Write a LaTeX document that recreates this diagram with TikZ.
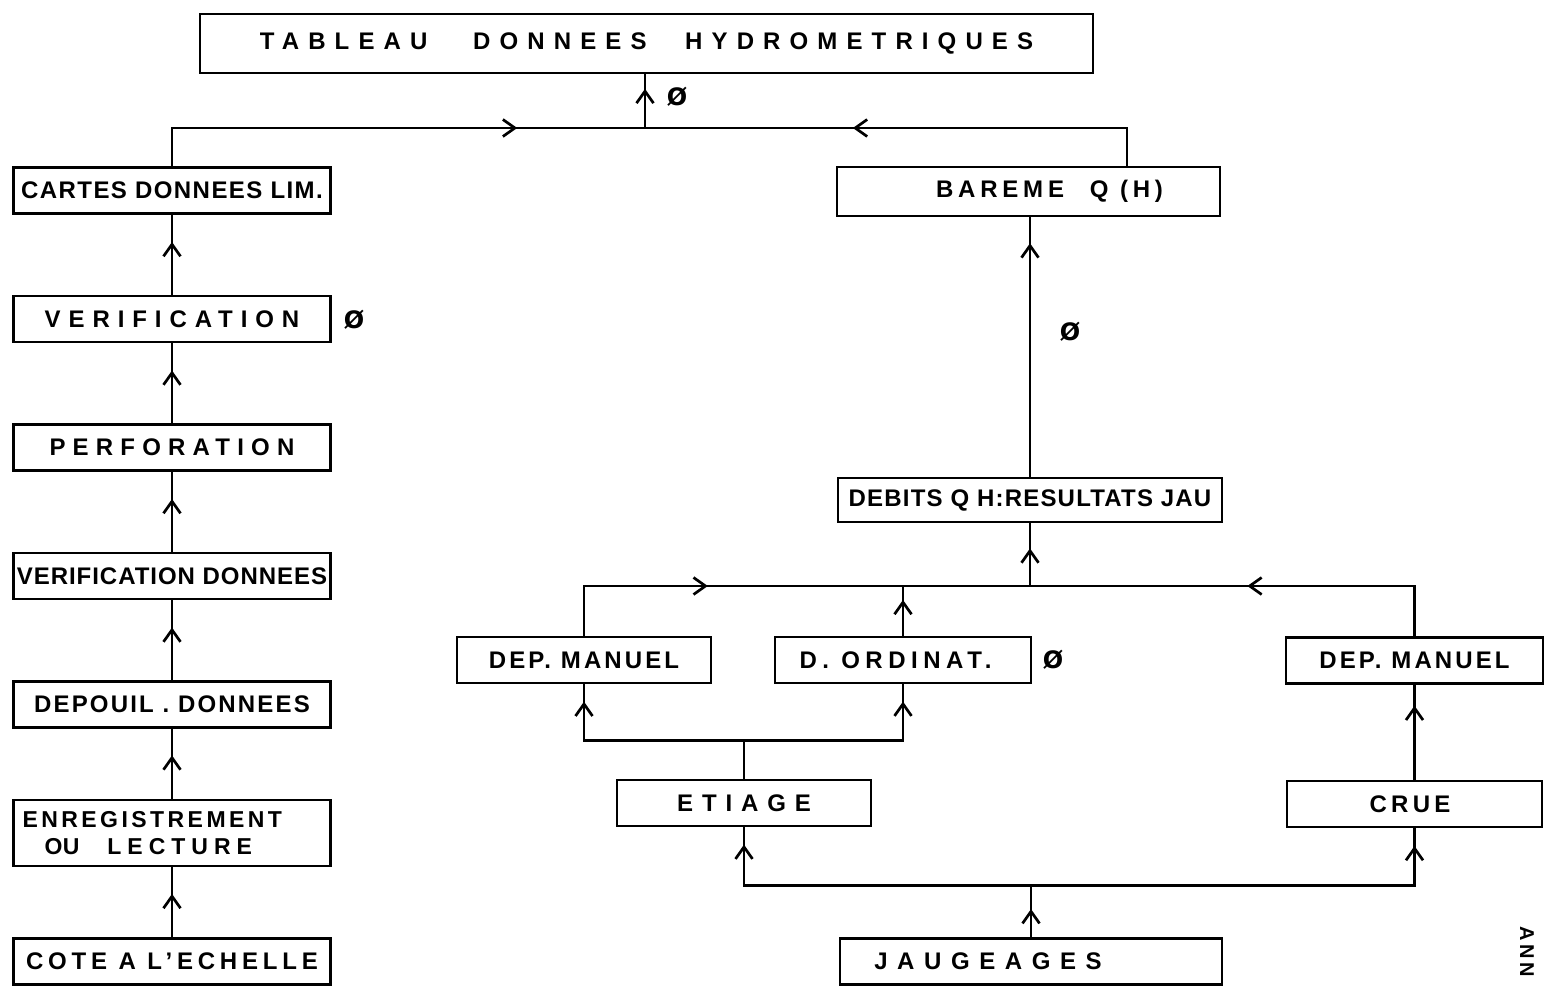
\documentclass[tikz,border=0pt]{standalone}
\usepackage{fontspec}
\setmainfont{Liberation Sans}
\newfontfamily\symbole{DejaVu Sans}
\usetikzlibrary{arrows.meta,decorations.markings}

% lettres espacees
\newcommand{\lettres}[2]{{\addfontfeature{LetterSpace=#1}#2}}

\tikzset{
  boite/.style={draw,line width=2.7pt,rectangle,inner sep=0pt,
    minimum width=317pt,minimum height=46pt,
    font=\fontsize{24}{30}\selectfont\bfseries},
  trait/.style={line width=2.7pt},
  fleche/.style={trait,decoration={markings,
    mark=at position #1 with {\arrow{Straight Barb[length=12pt,width=17pt]}}},
    postaction={decorate}},
  vide/.style={font=\symbole\bfseries\fontsize{24}{24}\selectfont,inner sep=0pt}
}

\begin{document}
\begin{tikzpicture}[x=1pt,y=1pt,node distance=128.5pt]
  \useasboundingbox (0,0) rectangle (1546,-987);

  \node[boite,minimum width=893pt,minimum height=59pt] (titre) at (646.5,-43.5)
    {\lettres{38}{TABLEAU\hspace{1.25em} DONNEES\hspace{0.95em} HYDROMETRIQUES}};

  % chaine des cotes
  \node[boite] (cartes) at (172,-190.5) {\lettres{6}{CARTES DONNEES LIM.}};
  \node[boite] (verif) [below of=cartes] {\lettres{33}{VERIFICATION}};
  \node[boite] (perf) [below of=verif] {\lettres{30}{PERFORATION}};
  \node[boite] (verifd) [below of=perf] {\lettres{4}{VERIFICATION DONNEES}};
  \node[boite] (depouil) [below of=verifd] {\lettres{9}{DEPOUIL . DONNEES}};
  \node[boite,minimum height=66pt,text width=299pt,align=left,
    font=\fontsize{23}{27}\selectfont\bfseries] (enreg) [below of=depouil]
    {\lettres{15}{ENREGISTREMENT}\\
     \hspace*{22pt}\lettres{2}{OU}\hspace{28pt}\lettres{26}{LECTURE}};
  \node[boite] (cote) [below of=enreg] {\lettres{20}{COTE A L'ECHELLE}};

  % chaine des debits
  \node[boite,minimum width=383pt,minimum height=49pt] (bareme) at (1028.5,-191.5)
    {\hspace*{42pt}\lettres{20}{BAREME\hspace{0.6em} Q (H)}};
  \node[boite,minimum width=384pt,minimum height=44pt] (debits) at (1030,-500)
    {\lettres{5}{DEBITS Q H:RESULTATS JAU}};
  \node[boite,minimum width=254pt] (depg) at (584,-660) {\lettres{13}{DEP. MANUEL}};
  \node[boite,minimum width=256pt] (dord) [right of=depg,node distance=319pt]
    {\lettres{23}{D. ORDINAT.}\hspace*{15pt}};
  \node[boite,minimum width=257pt] (depd) at (1414.5,-660.5) {\lettres{13}{DEP. MANUEL}};
  \node[boite,minimum width=254pt] (etiage) at (744,-803) {\lettres{37}{ETIAGE}};
  \node[boite,minimum width=255pt] (crue) [below of=depd,node distance=143.5pt]
    {\lettres{18}{CRUE}\hspace*{9pt}};
  \node[boite,minimum width=382pt] (jaug) at (1031,-961.5)
    {\lettres{40}{JAUGEAGES}\hspace*{86pt}};

  % marques
  \node[vide] (v1) at (677,-97) {Ø};
  \node[vide] (v2) at (354,-320) {Ø};
  \node[vide] (v3) at (1070,-332) {Ø};
  \node[vide] (v4) at (1053,-660) {Ø};

  \node[rotate=-90,anchor=west,inner sep=0pt,font=\fontsize{20}{20}\selectfont\bfseries]
    (annexe) at (1527,-926) {\lettres{18}{ANN}};

  % liaisons vers le tableau
  \coordinate (jt) at (645,-128);
  \draw[fleche=0.75] (cartes.north) |- (jt);
  \draw[fleche=0.6] ([xshift=98.5pt]bareme.north) |- (jt);
  \draw[fleche=0.73] (jt) -- (jt |- titre.south);

  \draw[fleche=0.66] (verif) -- (cartes);
  \draw[fleche=0.66] (perf) -- (verif);
  \draw[fleche=0.66] (verifd) -- (perf);
  \draw[fleche=0.66] (depouil) -- (verifd);
  \draw[fleche=0.62] (enreg) -- (depouil);
  \draw[fleche=0.62] (cote) -- (enreg);

  % liaisons des jaugeages
  \coordinate (jm) at (1030,-586);
  \draw[fleche=0.9] (debits.north) -- (debits.north |- bareme.south);
  \draw[fleche=0.6] (jm) -- (debits.south);
  \draw[fleche=0.35] (depg.north) |- (jm);
  \draw[fleche=0.5] (depd.north) |- (jm);
  \draw[fleche=0.72] (dord.north) -- (dord.north |- jm);

  \draw[trait] (etiage.north) -- ++(0,38) coordinate (je);
  \draw[fleche=0.92] (je) -| (depg.south);
  \draw[fleche=0.92] (je) -| (dord.south);

  \draw[fleche=0.54] (jaug.north) -- ++(0,52) coordinate (jj);
  \draw[fleche=0.95] (jj) -| (etiage.south);
  \draw[fleche=0.96] (jj) -| (crue.south);
  \draw[fleche=0.78] (crue) -- (depd);
\end{tikzpicture}
\end{document}
